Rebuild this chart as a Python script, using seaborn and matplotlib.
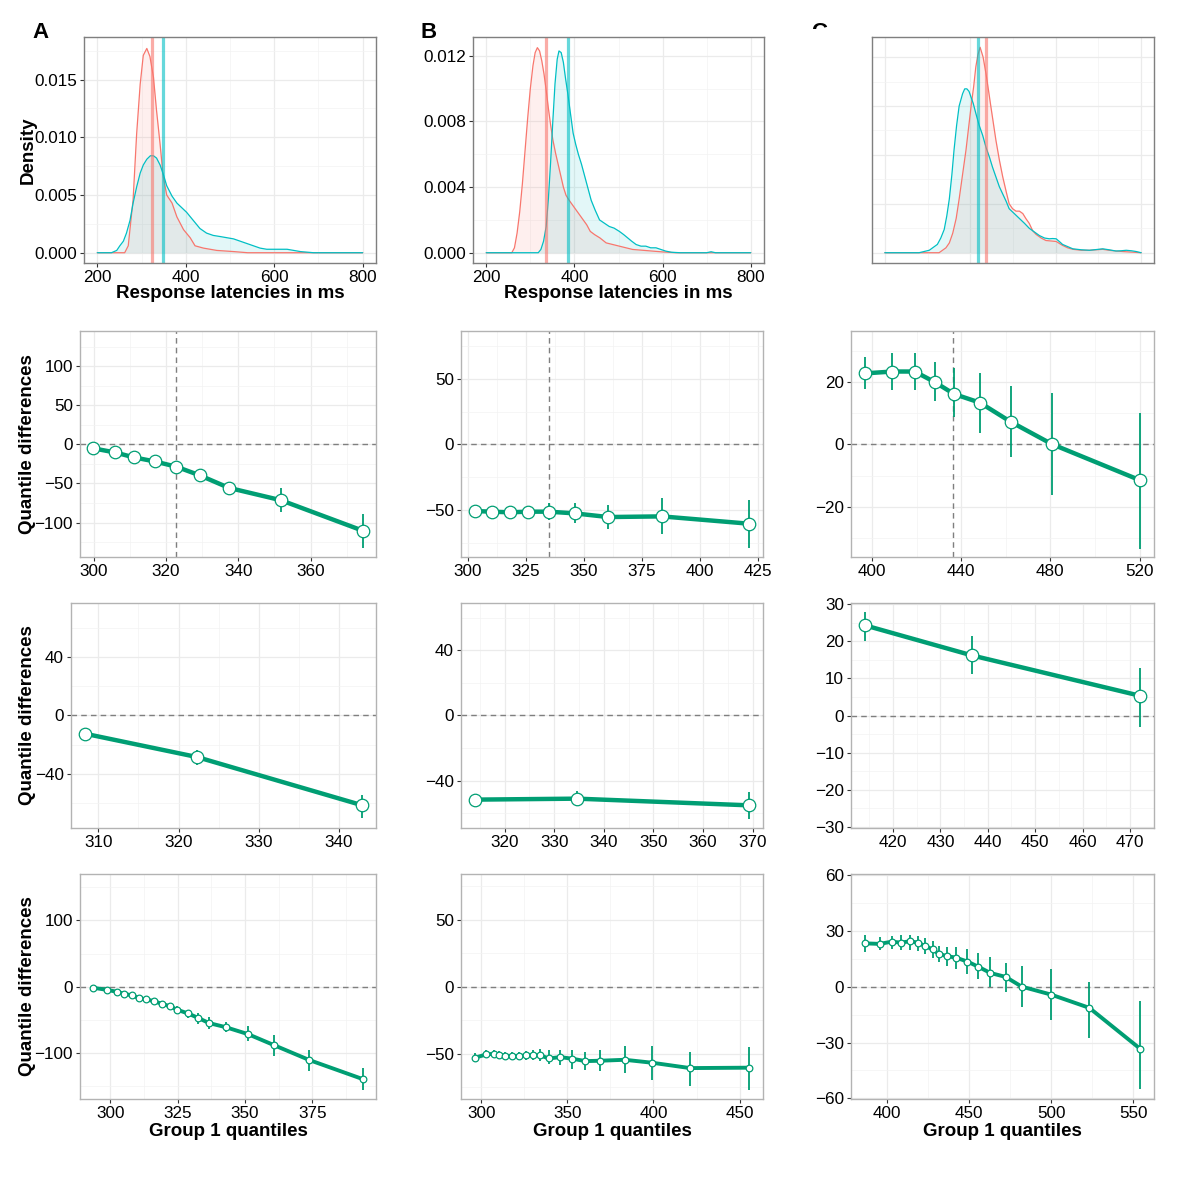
import matplotlib
matplotlib.use("Agg")
import numpy as np
import matplotlib.pyplot as plt
from matplotlib.ticker import MultipleLocator, FormatStrFormatter, NullFormatter
from matplotlib.transforms import Bbox, TransformedBbox
import seaborn as sns

# ---------------- data ----------------
# row 1: density curves (group 1 = red, group 2 = cyan), x in ms
a_red_x = [200, 262, 270, 281, 289, 297, 304, 312, 319, 327, 334, 342, 349, 357, 369, 380,
           395, 410, 421, 440, 470, 508, 540, 800]
a_red_y = [0, 0, 0.0006, 0.0046, 0.0103, 0.0146, 0.0171, 0.0177, 0.0170, 0.0152, 0.0123,
           0.0094, 0.0066, 0.0050, 0.0043, 0.0031, 0.0020, 0.0013, 0.0006, 0.0004, 0.0002,
           0.0001, 0, 0]
a_cyan_x = [200, 232, 244, 251, 259, 266, 274, 281, 289, 297, 304, 312, 320, 327, 334, 342,
            350, 357, 369, 380, 391, 402, 417, 432, 447, 462, 478, 493, 508, 523, 538, 553,
            568, 583, 598, 614, 629, 644, 659, 674, 689, 800]
a_cyan_y = [0, 0, 0.0002, 0.0006, 0.0010, 0.0017, 0.0028, 0.0043, 0.0057, 0.0069, 0.0076,
            0.0081, 0.0084, 0.0084, 0.0082, 0.0076, 0.0067, 0.0058, 0.0049, 0.0043, 0.0039,
            0.0035, 0.0028, 0.0021, 0.0017, 0.0015, 0.0014, 0.0013, 0.0012, 0.0010, 0.0008,
            0.0006, 0.0004, 0.0003, 0.0003, 0.0003, 0.0003, 0.0002, 0.0001, 0.00005, 0, 0]
a_vlines = [322.9, 349.5]

b_red_x = [200, 258, 264, 270, 276, 282, 288, 294, 300, 306, 311, 316, 321, 326, 331, 336,
           341, 346, 351, 357, 363, 369, 375, 381, 388, 396, 404, 412, 420, 428, 436, 446,
           458, 472, 487, 502, 517, 532, 555, 577, 600, 630, 800]
b_red_y = [0, 0, 0.0003, 0.0012, 0.0025, 0.0042, 0.0062, 0.0082, 0.0100, 0.0114, 0.0122,
           0.0125, 0.0123, 0.0117, 0.0109, 0.0099, 0.0088, 0.0078, 0.0069, 0.0061, 0.0054,
           0.0047, 0.0040, 0.0035, 0.0032, 0.0029, 0.0026, 0.0023, 0.0020, 0.0017, 0.0013,
           0.0011, 0.0009, 0.0006, 0.0005, 0.0004, 0.0003, 0.0002, 0.00015, 0.0001, 0.00005,
           0, 0]
b_cyan_x = [200, 318, 324, 330, 336, 341, 346, 351, 356, 361, 365, 370, 375, 380, 385, 391,
            397, 403, 409, 416, 423, 430, 438, 447, 457, 468, 479, 490, 502, 512, 521, 530,
            540, 551, 562, 573, 585, 596, 607, 620, 640, 700, 710, 720, 800]
b_cyan_y = [0, 0, 0.0002, 0.0007, 0.0016, 0.0033, 0.0055, 0.0080, 0.0103, 0.0118, 0.0123,
            0.0122, 0.0116, 0.0106, 0.0097, 0.0085, 0.0073, 0.0066, 0.0060, 0.0054, 0.0047,
            0.0040, 0.0032, 0.0026, 0.0020, 0.0018, 0.0016, 0.0015, 0.0013, 0.0011, 0.0009,
            0.0007, 0.0005, 0.0004, 0.0004, 0.0003, 0.0003, 0.0002, 0.0001, 0.00003, 0, 0,
            0.00006, 0, 0]
b_vlines = [334.9, 385.0]

c_red_x = [200, 327, 343, 351, 359, 367, 374, 382, 390, 396, 402, 408, 413, 418, 423, 430,
           437, 443, 448, 454, 460, 468, 476, 484, 491, 499, 507, 515, 523, 530, 538, 546,
           554, 566, 577, 589, 601, 616, 628, 640, 660, 679, 695, 710, 725, 741, 773, 800]
c_red_y = [0, 0, 0.0002, 0.0004, 0.0008, 0.0014, 0.0022, 0.0032, 0.0042, 0.0051, 0.0060,
           0.0068, 0.0076, 0.0081, 0.0084, 0.0080, 0.0073, 0.0066, 0.0060, 0.0053, 0.0046,
           0.0038, 0.0031, 0.0025, 0.0020, 0.0018, 0.0017, 0.0017, 0.0016, 0.0014, 0.0012,
           0.0009, 0.00075, 0.0006, 0.0005, 0.00048, 0.00046, 0.0003, 0.0002, 0.00014,
           0.0001, 0.0001, 0.00012, 0.00014, 0.0001, 0.00007, 0.00003, 0]
c_cyan_x = [200, 280, 304, 323, 331, 339, 345, 351, 357, 362, 368, 374, 382, 387, 392, 397,
            401, 407, 413, 421, 429, 437, 445, 452, 460, 468, 476, 484, 491, 503, 515, 527,
            538, 550, 562, 574, 585, 593, 601, 609, 616, 628, 640, 660, 679, 695, 710, 725,
            741, 753, 765, 777, 788, 800]
c_cyan_y = [0, 0, 0.0001, 0.00034, 0.0006, 0.00095, 0.0015, 0.0022, 0.0032, 0.0042, 0.0052,
            0.0060, 0.0065, 0.0067, 0.0067, 0.0066, 0.0064, 0.0061, 0.0057, 0.0052, 0.0048,
            0.0043, 0.0039, 0.0035, 0.0031, 0.0027, 0.0024, 0.0021, 0.0018, 0.0016, 0.0014,
            0.0012, 0.0010, 0.00085, 0.0007, 0.0006, 0.00057, 0.00058, 0.00057, 0.00045,
            0.00034, 0.00025, 0.00016, 0.00012, 0.0001, 0.00013, 0.00016, 0.00012, 0.00007,
            0.00008, 0.0001, 0.00008, 0.00005, 0]
c_vlines = [436.7, 419.0]

# row 2: deciles (group 1 quantiles, difference, bootstrap CI)
a2_q = [299.9, 305.9, 311.2, 316.9, 322.9, 329.4, 337.4, 351.8, 374.4]
a2_d = [-5.1, -10.3, -16.7, -21.8, -28.6, -39.7, -55.6, -71.4, -110.3]
a2_lo = [-8, -13, -20, -25, -32, -44, -65, -87, -132.5]
a2_hi = [-2, -7, -13, -18, -25, -35, -47.9, -56, -88.5]

b2_q = [303.1, 310.4, 318.2, 325.9, 334.9, 346.1, 360.5, 383.6, 421.2]
b2_d = [-50.9, -51.4, -51.9, -51.4, -51.4, -52.7, -55.5, -55.0, -60.6]
b2_lo = [-54, -55, -55.5, -55, -57.8, -60.3, -65, -68.7, -78.9]
b2_hi = [-47.5, -48, -48, -47.5, -45, -45, -46, -40.7, -42.5]

c2_q = [396.7, 409.1, 419.1, 428.1, 436.7, 448.4, 462.1, 480.7, 520.3]
c2_d = [22.8, 23.4, 23.4, 20.0, 16.2, 13.4, 7.3, 0.1, -11.5]
c2_lo = [17.8, 17.5, 17.5, 13.8, 8.9, 3.8, -4.0, -16.3, -33.4]
c2_hi = [28.0, 29.3, 29.3, 26.4, 24.4, 23.0, 18.8, 16.6, 10.2]

# row 3: quartiles
a3_q = [308.3, 322.3, 342.9]
a3_d = [-12.5, -28.5, -61.5]
a3_lo = [-15, -33.7, -70.2]
a3_hi = [-10, -23.5, -54.2]

b3_q = [314.0, 334.6, 369.3]
b3_d = [-51.7, -51.1, -55.2]
b3_lo = [-54, -55.8, -63.6]
b3_hi = [-49, -46.6, -47.2]

c3_q = [414.0, 436.6, 472.2]
c3_d = [24.3, 16.2, 5.3]
c3_lo = [20.2, 11.2, -3.0]
c3_hi = [27.8, 21.5, 12.7]

# row 4: 19 quantiles (0.05 .. 0.95)
a4_q = [293.8, 298.8, 302.5, 305.2, 308.2, 310.7, 313.4, 316.3, 319.1, 322.1, 324.9, 328.9,
        332.5, 336.7, 342.8, 351.1, 360.7, 373.9, 393.6]
a4_d = [-1.5, -4.5, -7.5, -10.5, -13.0, -17.0, -19.0, -21.6, -25.6, -29.1, -34.6, -40.1,
        -46.6, -54.6, -60.7, -71.2, -87.7, -110.3, -138.8]
a4_lo = [-3.5, -6.5, -10, -13, -16, -20, -22.5, -25, -29, -33, -39.6, -47, -55.6, -63.7,
         -68.7, -82.2, -104.8, -127.3, -154.9]
a4_hi = [0.5, -2.5, -5, -8, -10, -14, -15.5, -18, -22, -25.5, -29.6, -34.6, -39.6, -45.6,
         -53.6, -59.6, -72, -95.7, -122]

b4_q = [296.2, 302.9, 307.3, 310.4, 314.0, 318.1, 321.9, 326.0, 330.0, 334.2, 339.2, 345.8,
        352.9, 360.4, 369.2, 383.3, 399.2, 421.2, 455.6]
b4_d = [-53.0, -50.5, -50.0, -50.7, -51.5, -51.7, -51.7, -51.2, -51.0, -51.2, -53.5, -52.5,
        -53.7, -55.5, -55.2, -54.5, -56.7, -60.7, -60.4]
b4_lo = [-56.5, -53.5, -53, -53.7, -54.5, -54.7, -55, -54.5, -54.5, -55.7, -58, -58.2,
         -61.4, -62.4, -62.9, -64.4, -69.4, -74.4, -76.9]
b4_hi = [-49.5, -47.5, -47, -47.7, -48.5, -48.7, -48.4, -48, -47, -46.5, -47.5, -47, -47,
         -48.5, -47.5, -44, -44, -48.8, -45]

c4_q = [386.2, 395.3, 402.6, 408.1, 413.8, 418.5, 422.9, 427.6, 431.4, 436.7, 442.0, 448.9,
        455.4, 462.9, 472.2, 482.0, 500.0, 523.3, 554.4]
c4_d = [23.2, 22.9, 24.1, 23.6, 24.3, 23.6, 21.8, 20.0, 17.5, 16.3, 15.5, 13.4, 10.7, 7.3,
        5.2, 0.0, -4.3, -11.4, -33.4]
c4_lo = [18.6, 19.5, 20.2, 19.5, 19.8, 19.1, 17.3, 15.5, 13.2, 11.3, 9.3, 6.8, 4.3, 0.0,
         -2.7, -11.1, -18.0, -27.5, -55.2]
c4_hi = [27.9, 26.6, 27.3, 27.5, 27.7, 27.3, 25.9, 24.6, 21.6, 21.3, 21.1, 20.2, 17.9, 15.9,
         12.5, 11.3, 9.6, 2.5, -7.5]

# ---------------- styling ----------------
RED = "#F8766D"
CYAN = "#00BFC4"
GREEN = "#009E73"
W, H = 1194, 1200

sns.set_theme(style="white")
plt.rcParams["font.family"] = ["Liberation Sans", "DejaVu Sans"]
plt.rcParams["axes.unicode_minus"] = True
plt.rcParams["text.color"] = "black"

fig = plt.figure(figsize=(W / 100, H / 100), dpi=100)


def add_ax(l, t, r, b):
    return fig.add_axes([l / W, 1 - b / H, (r - l) / W, (b - t) / H])


def style_ax(ax, xlim, ylim, xmaj, ymaj, border="#7f7f7f"):
    ax.set_xlim(*xlim)
    ax.set_ylim(*ylim)
    ax.xaxis.set_major_locator(MultipleLocator(xmaj))
    ax.xaxis.set_minor_locator(MultipleLocator(xmaj / 2))
    ax.yaxis.set_major_locator(MultipleLocator(ymaj))
    ax.yaxis.set_minor_locator(MultipleLocator(ymaj / 2))
    ax.set_facecolor("white")
    ax.set_axisbelow(True)
    ax.grid(True, which="major", color="#ebebeb", lw=0.9)
    ax.grid(True, which="minor", color="#f3f3f3", lw=0.5)
    for s in ax.spines.values():
        s.set_color(border)
        s.set_linewidth(1.0)
    ax.tick_params(which="major", direction="out", length=3, width=0.8, color="#333333",
                   labelsize=12.3, labelcolor="black", pad=2, bottom=True, left=True)
    ax.tick_params(which="minor", length=0)
    ax.set_xlabel("")
    ax.set_ylabel("")


def density_panel(ax, xr, yr, xc, yc, vl):
    ax.fill_between(xr, yr, color=RED, alpha=0.11, lw=0)
    ax.fill_between(xc, yc, color=CYAN, alpha=0.11, lw=0)
    sns.lineplot(x=xr, y=yr, ax=ax, color=RED, lw=0.9, sort=False)
    sns.lineplot(x=xc, y=yc, ax=ax, color=CYAN, lw=0.9, sort=False)
    ax.axvline(vl[0], color=RED, alpha=0.6, lw=2.3)
    ax.axvline(vl[1], color=CYAN, alpha=0.6, lw=2.3)


def shift_panel(ax, q, d, lo, hi, msize, lw, median=None):
    ax.axhline(0, ls=(0, (4, 3)), color="#7f7f7f", lw=1.0, zorder=1)
    if median is not None:
        ax.axvline(median, ls=(0, (4, 3)), color="#7f7f7f", lw=1.0, zorder=1)
    ax.vlines(q, lo, hi, color=GREEN, lw=1.3, zorder=2)
    sns.lineplot(x=q, y=d, ax=ax, color=GREEN, lw=lw, zorder=3)
    sns.scatterplot(x=q, y=d, ax=ax, s=msize ** 2, color="white", edgecolor=GREEN,
                    linewidth=0.9, zorder=4)


# ---- row 1 ----
ax = add_ax(84, 37, 376, 263)
density_panel(ax, a_red_x, a_red_y, a_cyan_x, a_cyan_y, a_vlines)
style_ax(ax, (170, 830), (-0.00089, 0.01869), 200, 0.005)
ax.yaxis.set_major_formatter(FormatStrFormatter("%.3f"))

ax = add_ax(473, 37, 764, 263)
density_panel(ax, b_red_x, b_red_y, b_cyan_x, b_cyan_y, b_vlines)
style_ax(ax, (170, 830), (-0.000626, 0.01315), 200, 0.004)
ax.yaxis.set_major_formatter(FormatStrFormatter("%.3f"))

ax = add_ax(872, 37, 1154, 263)
density_panel(ax, c_red_x, c_red_y, c_cyan_x, c_cyan_y, c_vlines)
style_ax(ax, (170, 830), (-0.00042, 0.00882), 200, 0.002)
ax.tick_params(which="both", bottom=False, left=False, labelbottom=False, labelleft=False)

# ---- rows 2-4 ----
border = "#b3b3b3"
ax = add_ax(80, 331, 376, 557)
shift_panel(ax, a2_q, a2_d, a2_lo, a2_hi, 9, 3.2, median=322.9)
style_ax(ax, (296.2, 378.1), (-144, 145), 20, 50, border)

ax = add_ax(461, 331, 763, 557)
shift_panel(ax, b2_q, b2_d, b2_lo, b2_hi, 9, 3.2, median=334.9)
style_ax(ax, (297.2, 427.1), (-86, 86.5), 25, 50, border)

ax = add_ax(851, 331, 1154, 557)
shift_panel(ax, c2_q, c2_d, c2_lo, c2_hi, 9, 3.2, median=436.5)
style_ax(ax, (390.5, 526.5), (-36.1, 36.4), 40, 20, border)

ax = add_ax(71, 603, 376, 828)
shift_panel(ax, a3_q, a3_d, a3_lo, a3_hi, 9, 3.2)
style_ax(ax, (306.6, 344.6), (-77, 76.8), 10, 40, border)

ax = add_ax(461, 603, 763, 828)
shift_panel(ax, b3_q, b3_d, b3_lo, b3_hi, 9, 3.2)
style_ax(ax, (311.2, 372.1), (-69.1, 68.9), 10, 40, border)

ax = add_ax(851, 603, 1154, 828)
shift_panel(ax, c3_q, c3_d, c3_lo, c3_hi, 9, 3.2)
style_ax(ax, (411.1, 475.1), (-30.3, 30.3), 10, 10, border)

ax = add_ax(80, 874, 376, 1099)
shift_panel(ax, a4_q, a4_d, a4_lo, a4_hi, 4.8, 2.8)
style_ax(ax, (288.8, 398.6), (-168.9, 169.9), 25, 100, border)

ax = add_ax(461, 874, 763, 1099)
shift_panel(ax, b4_q, b4_d, b4_lo, b4_hi, 4.8, 2.8)
style_ax(ax, (288.2, 463.6), (-83.8, 84.3), 50, 50, border)

ax = add_ax(851, 874, 1154, 1099)
shift_panel(ax, c4_q, c4_d, c4_lo, c4_hi, 4.8, 2.8)
style_ax(ax, (377.8, 562.8), (-60.3, 60.4), 50, 30, border)

# ---- labels ----
lab = dict(fontsize=13.5, fontweight="bold", ha="center", va="center", color="black")
fig.text(28 / W, 1 - 150 / H, "Density", rotation=90, **lab)
for yc in (444, 715, 986):
    fig.text(28 / W, 1 - yc / H, "Quantile differences", rotation=90, **lab)
for xc in (230, 618):
    fig.text(xc / W, 1 - 294 / H, "Response latencies in ms", **lab)
for xc in (228, 612, 1002):
    fig.text(xc / W, 1 - 1131 / H, "Group 1 quantiles", **lab)

fig.text(32 / W, 1 - 33 / H, "A", fontsize=16, fontweight="bold", ha="left", va="center",
         color="black")
fig.text(421 / W, 1 - 33 / H, "B", fontsize=16, fontweight="bold", ha="left", va="center",
         color="black")
tc = fig.text(811 / W, 1 - 33 / H, "C", fontsize=16, fontweight="bold", ha="left",
              va="center", color="black")
tc.set_clip_box(TransformedBbox(Bbox([[0, 1 - 29 / H], [1, 1]]), fig.transFigure))
tc.set_clip_on(True)

fig.savefig("out.png", dpi=100, facecolor="white")
